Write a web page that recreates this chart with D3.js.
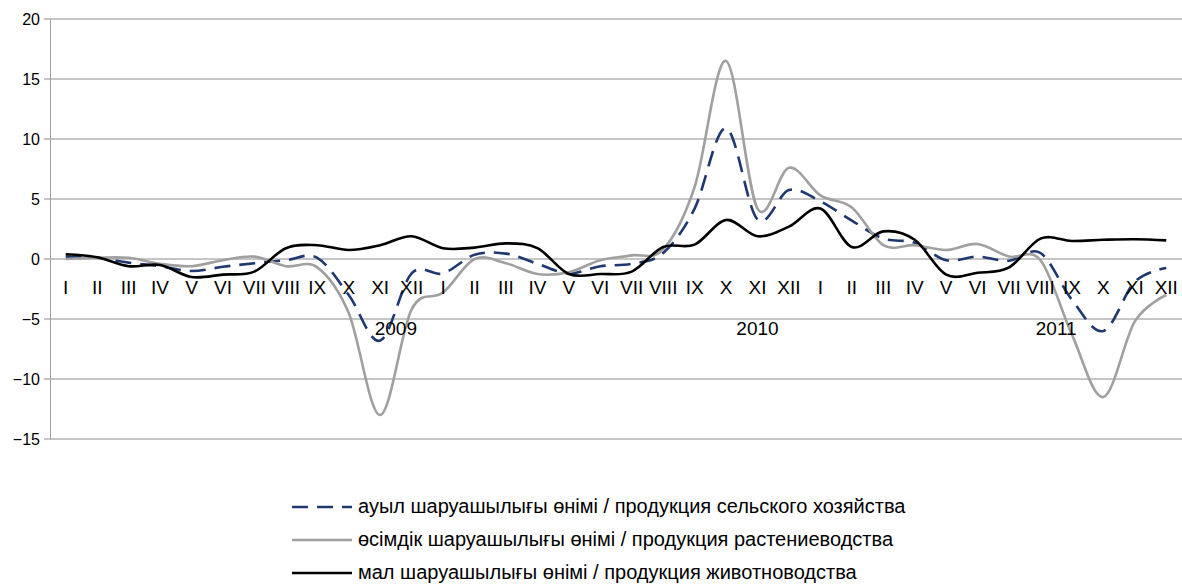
<!DOCTYPE html>
<html>
<head>
<meta charset="utf-8">
<script src="https://cdn.jsdelivr.net/npm/d3@7"></script>
<style>
  body { margin: 0; background: #fff; }
  text { font-family: "Liberation Sans", Arial, sans-serif; fill: #000; }
</style>
</head>
<body>
<svg id="chart" width="1182" height="585"></svg>
<script>
const months = ["I", "II", "III", "IV", "V", "VI", "VII", "VIII", "IX", "X", "XI", "XII"];
const years = ["2009", "2010", "2011"];
// where Excel dropped the year labels (month index, 0..35)
const yearLabelAt = [10.5, 22, 31.5];
const yTicks = [-15, -10, -5, 0, 5, 10, 15, 20];

const agriculture = [
  0.2, 0.1, -0.3, -0.6, -1.0, -0.65, -0.35, -0.1, 0.1, -3.0, -6.8, -1.2,
  -1.2, 0.35, 0.45, -0.4, -1.2, -0.6, -0.4, 0.5, 4.2, 10.9, 3.3, 5.75,
  4.8, 3.2, 1.7, 1.35, -0.1, 0.2, -0.15, 0.5, -3.4, -6.0, -1.9, -0.75
];
const crops = [
  0.0, 0.1, 0.1, -0.4, -0.6, -0.1, 0.2, -0.6, -0.7, -4.5, -13.0, -4.2,
  -2.8, 0.0, -0.35, -1.25, -1.1, -0.1, 0.3, 0.8, 6.0, 16.5, 4.2, 7.6,
  5.3, 4.3, 1.15, 1.15, 0.75, 1.25, 0.2, -0.1, -6.3, -11.5, -5.2, -3.0
];
const livestock = [
  0.4, 0.15, -0.6, -0.5, -1.5, -1.3, -1.05, 0.9, 1.15, 0.75, 1.15, 1.9,
  0.9, 0.95, 1.3, 0.9, -1.25, -1.25, -1.05, 1.0, 1.2, 3.25, 1.9, 2.7,
  4.2, 1.0, 2.3, 1.6, -1.3, -1.15, -0.7, 1.7, 1.5, 1.6, 1.65, 1.55
];

const seriesNames = [
  "ауыл шаруашылығы өнімі / продукция сельского хозяйства",
  "өсімдік шаруашылығы өнімі / продукция растениеводства",
  "мал шаруашылығы өнімі / продукция животноводства"
];

const series = [
  {name: seriesNames[0], values: agriculture, color: "#1f3870", dash: "16,9"},
  {name: seriesNames[1], values: crops, color: "#a0a0a0", dash: null},
  {name: seriesNames[2], values: livestock, color: "#000000", dash: null},
];

const plot = {left: 50, right: 1182, top: 19, bottom: 439};
const n = months.length * years.length;

const x = d3.scaleLinear().domain([-0.5, n - 0.5]).range([plot.left, plot.right]);
const y = d3.scaleLinear().domain([-15, 20]).range([plot.bottom, plot.top]);

const svg = d3.select("#chart");

svg.append("g")
  .selectAll("line").data(yTicks)
  .join("line")
  .attr("x1", plot.left - 6)
  .attr("x2", plot.right)
  .attr("y1", d => y(d))
  .attr("y2", d => y(d))
  .attr("stroke", "#8c8c8c")
  .attr("stroke-width", 1);

const yAxis = svg.append("g")
  .attr("transform", `translate(${plot.left},0)`)
  .call(d3.axisLeft(y).tickValues(yTicks).tickSize(0).tickPadding(10));
yAxis.select(".domain").attr("stroke", "#a0a0a0");
yAxis.selectAll("text").style("font-size", "16px").attr("fill", "#000");

const line = d3.line()
  .x((d, i) => x(i))
  .y(d => y(d))
  .curve(d3.curveCatmullRom.alpha(0));

svg.append("g")
  .selectAll("path").data(series)
  .join("path")
  .attr("d", d => line(d.values))
  .attr("fill", "none")
  .attr("stroke", d => d.color)
  .attr("stroke-width", 2.6)
  .attr("stroke-dasharray", d => d.dash);

const monthLabels = d3.range(n).map(i => months[i % 12]);

svg.append("g")
  .selectAll("text").data(monthLabels)
  .join("text")
  .attr("x", (d, i) => x(i))
  .attr("y", y(0) + 35)
  .attr("text-anchor", "middle")
  .style("font-size", "19px")
  .text(d => d);

svg.append("g")
  .selectAll("text").data(years)
  .join("text")
  .attr("x", (d, i) => x(yearLabelAt[i]))
  .attr("y", y(0) + 76)
  .attr("text-anchor", "middle")
  .style("font-size", "19px")
  .text(d => d);

const legend = svg.append("g")
  .selectAll("g").data(series)
  .join("g")
  .attr("transform", (d, i) => `translate(292,${507 + i * 33})`);

legend.append("line")
  .attr("x1", 0)
  .attr("x2", 60)
  .attr("stroke", d => d.color)
  .attr("stroke-width", 2.6)
  .attr("stroke-dasharray", d => d.dash);

legend.append("text")
  .attr("x", 66)
  .attr("dy", "0.32em")
  .style("font-size", "20px")
  .text(d => d.name);
</script>
</body>
</html>
